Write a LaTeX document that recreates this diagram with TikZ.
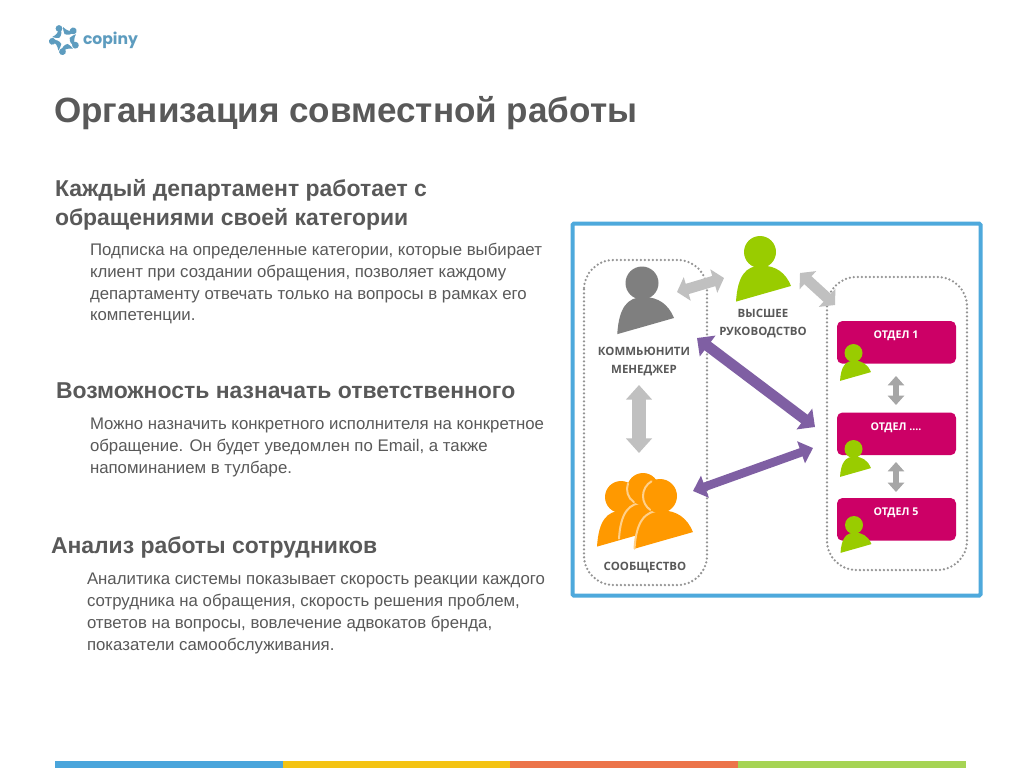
\documentclass[tikz,border=0pt]{standalone}
\usepackage{fontspec}
\setmainfont{Liberation Sans}
\newfontfamily\dgfont{Open Sans}
\newfontfamily\logofont{Poppins}
\usetikzlibrary{arrows.meta}
\definecolor{txt}{HTML}{595959}
\definecolor{frameblue}{HTML}{4EA9DC}
\definecolor{pinkbox}{HTML}{CC0066}
\definecolor{leaf}{HTML}{99CC00}
\definecolor{arrowgrey}{HTML}{C0C0C0}
\definecolor{arrowgreyb}{HTML}{A6A6A6}
\definecolor{purp}{HTML}{7F5FA3}
\definecolor{orangep}{HTML}{FF9900}
\definecolor{orangel}{HTML}{FFD08A}
\definecolor{logoc}{HTML}{5D9CBF}
\definecolor{personc}{HTML}{7F7F7F}
\definecolor{barblue}{HTML}{4AA5DB}
\definecolor{baryellow}{HTML}{F4C313}
\definecolor{barorange}{HTML}{EC744A}
\definecolor{bargreen}{HTML}{A6D454}
\tikzset{
  every node/.style={inner sep=0pt,outer sep=0pt},
  titletext/.style={anchor=base west,text=txt,font=\fontsize{26.3}{30}\selectfont\bfseries},
  headtext/.style={anchor=base west,text=txt,font=\fontsize{17.2}{20}\selectfont\bfseries},
  bodytext/.style={anchor=base west,text=txt,font=\fontsize{12.6}{16}\selectfont},
  dglabel/.style={anchor=base,text=txt,font=\fontsize{8.6}{10}\selectfont\dgfont\bfseries},
  deptlabel/.style={anchor=base,text=white,font=\fontsize{8}{10}\selectfont\dgfont\bfseries},
  dept/.style={fill=pinkbox,rounded corners=4pt,anchor=north west,minimum width=89.25pt,minimum height=32pt},
  dotbox/.style={draw=black!42,line width=1.9pt,line cap=round,dash pattern=on 0pt off 3pt,rounded corners=22pt},
  greybig/.style={arrowgrey,line width=10.5pt,{Triangle[length=11pt,width=19pt]}-{Triangle[length=11pt,width=19pt]}},
  greyslant/.style={arrowgrey,line width=8pt,{Triangle[length=8pt,width=18pt]}-{Triangle[length=8pt,width=18pt]}},
  greysmall/.style={arrowgreyb,line width=5pt,{Triangle[length=7pt,width=12pt]}-{Triangle[length=7pt,width=12pt]}},
  purpa/.style={purp,line width=8pt,{Triangle[length=10pt,width=19pt]}-{Triangle[length=10pt,width=19pt]}},
  purpb/.style={purp,line width=6.5pt,{Triangle[length=9.5pt,width=17pt]}-{Triangle[length=9.5pt,width=17pt]}},
  seam/.style={draw=orangel,line width=1.5pt,line cap=round},
}
\newcommand{\personshape}[4]{%
  \begin{scope}[shift={(#1,#2)},scale=#3]
    \fill[#4] (0,0) circle (1);
    \fill[#4] (-1.5,3.1) .. controls (-1.4,1.5) and (-0.9,0.85) .. (0.1,0.85)
      .. controls (1,0.85) and (1.6,1.3) .. (1.94,2.12) -- cycle;
  \end{scope}}
\newcommand{\personseam}[4]{%
  \begin{scope}[shift={(#1,#2)},scale=#3]
    \fill[orangep] (-1.5,3.1) .. controls (-1.4,1.5) and (-0.9,0.85) .. (0.1,0.85)
      .. controls (1,0.85) and (1.6,1.3) .. (1.94,2.12) -- cycle;
    \draw[seam] (-1.5,3.1) .. controls (-1.4,1.5) and (-0.9,0.85) .. (0.1,0.85);
    \fill[orangep] (0,0) circle (1);
    \draw[seam] (#4:1) arc[start angle=#4,end angle=125,radius=1];
  \end{scope}}
\begin{document}
\begin{tikzpicture}[x=0.75pt,y=-0.75pt]
\useasboundingbox (0,0) rectangle (1024,769);
\fill[white] (0,0) rectangle (1024,769);
% logo
\begin{scope}[shift={(64.5,39.5)}]
 \foreach \a in {0,72,144,216,288}{
  \begin{scope}[rotate=\a]
   \fill[logoc] (-5.5,-11) circle (3.4);
   \fill[logoc] (-1.5,-12.5) .. controls (2,-9) and (5,-8) .. (10.5,-8.5)
     .. controls (7,-4.5) and (3,-4) .. (0,-5.5) .. controls (-1,-8) and (-1.5,-10) .. (-1.5,-12.5) -- cycle;
  \end{scope}}
\end{scope}
\node[anchor=base west,text=logoc,font=\fontsize{11.7}{14}\selectfont\logofont\bfseries] (logo) at (83,44) {copiny};
% text
\node[titletext] (title) at (54,122) {Организация совместной работы};
\node[headtext] (h1a) at (55,196) {Каждый департамент работает с};
\node[headtext] (h1b) at (55,225) {обращениями своей категории};
\node[bodytext] (b1a) at (90,255) {Подписка на определенные категории, которые выбирает};
\node[bodytext] (b1b) at (90,277) {клиент при создании обращения, позволяет каждому};
\node[bodytext] (b1c) at (90,299) {департаменту отвечать только на вопросы в рамках его};
\node[bodytext] (b1d) at (90,320) {компетенции.};
\node[headtext] (h2) at (56,398) {Возможность назначать ответственного};
\node[bodytext] (b2a) at (90,429) {Можно назначить конкретного исполнителя на конкретное};
\node[bodytext] (b2b) at (90,451) {обращение. Он будет уведомлен по Email, а также};
\node[bodytext] (b2c) at (90,473) {напоминанием в тулбаре.};
\node[headtext] (h3) at (51,553) {Анализ работы сотрудников};
\node[bodytext] (b3a) at (87,584) {Аналитика системы показывает скорость реакции каждого};
\node[bodytext] (b3b) at (87,606) {сотрудника на обращения, скорость решения проблем,};
\node[bodytext] (b3c) at (87,628) {ответов на вопросы, вовлечение адвокатов бренда,};
\node[bodytext] (b3d) at (87,650) {показатели самообслуживания.};
% frame
\draw[frameblue,line width=3pt,rounded corners=1pt] (572.5,223.5) rectangle (980.5,595.5);
% dotted groups
\draw[dotbox] (584,260) rectangle (707,585);
\draw[dotbox] (827,277) rectangle (967,570);
% people
\personshape{642}{283}{16.5}{personc}
\personshape{760}{252}{16}{leaf}
% labels
\node[dglabel] (lk) at (644,355) {КОММЬЮНИТИ};
\node[dglabel] (lm) at (644,373) {МЕНЕДЖЕР};
\node[dglabel] (lv) at (763,317) {ВЫСШЕЕ};
\node[dglabel] (lr) at (763,335) {РУКОВОДСТВО};
\node[dglabel] (ls) at (645,570) {СООБЩЕСТВО};
% departments
\node[dept] (d1) at (837,321) {};
\node[dept] (d2) at (837,412.5) {};
\node[dept] (d3) at (837,498) {};
\node[deptlabel] (t1) at (896,338.5) {ОТДЕЛ 1};
\node[deptlabel] (t2) at (896,430.5) {ОТДЕЛ ....};
\node[deptlabel] (t3) at (896,515) {ОТДЕЛ 5};
\personshape{853.5}{353}{9}{leaf}
\personshape{853.5}{449}{9}{leaf}
\personshape{854}{525}{9}{leaf}
% orange group
\personshape{621}{497}{16}{orangep}
\personseam{643}{489}{16}{200}
\personseam{660}{496}{17}{240}
% connector ends
\coordinate (ga) at (677,292); \coordinate (gb) at (724,278);
\coordinate (gc) at (800,273); \coordinate (gd) at (835,305);
\coordinate (ge) at (639,385); \coordinate (gf) at (639,453);
\coordinate (pa) at (697,338); \coordinate (pb) at (815,427);
\coordinate (pc) at (813,448); \coordinate (pd) at (693,491);
\coordinate (sa) at (896,376); \coordinate (sb) at (896,405);
\coordinate (sc) at (896,462); \coordinate (sd) at (896,492);
\draw[greyslant] (ga) -- (gb);
\draw[greyslant] (gc) -- (gd);
\draw[greybig] (ge) -- (gf);
\draw[purpa] (pa) -- (pb);
\draw[purpb] (pc) -- (pd);
\draw[greysmall] (sa) -- (sb);
\draw[greysmall] (sc) -- (sd);
% bottom bar
\fill[barblue] (55,761) rectangle (283,768);
\fill[baryellow] (283,761) rectangle (510,768);
\fill[barorange] (510,761) rectangle (738,768);
\fill[bargreen] (738,761) rectangle (966,768);
\end{tikzpicture}
\end{document}
